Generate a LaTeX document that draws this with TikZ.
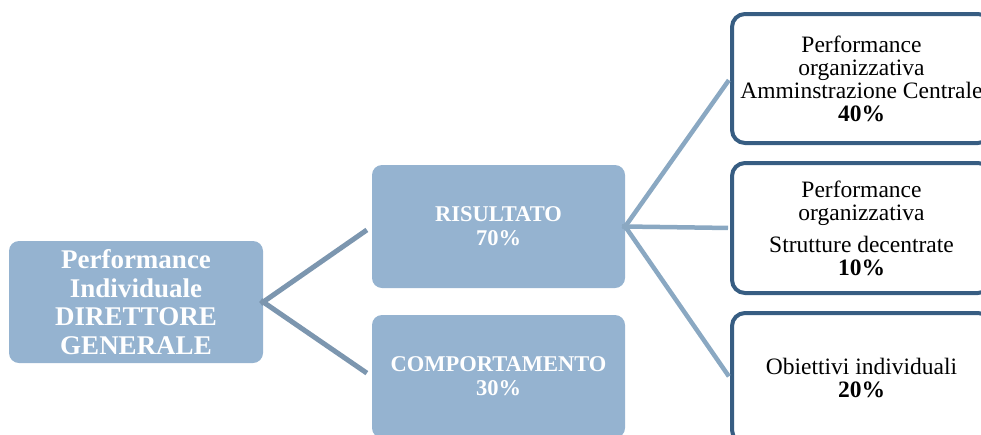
\documentclass[tikz,border=0pt]{standalone}
\usepackage{fontspec}
\setmainfont{Liberation Serif}
\definecolor{boxfill}{RGB}{149,179,208}
\definecolor{lconn}{RGB}{124,150,175}
\definecolor{rconn}{RGB}{138,168,194}
\definecolor{rborder}{RGB}{55,93,130}
\tikzset{
  bluebox/.style={fill=boxfill, draw=none, rounded corners=10pt, align=center, text=white, inner sep=0pt},
  whitebox/.style={fill=white, draw=rborder, line width=4pt, rounded corners=13pt, align=center, text=black, inner sep=0pt, minimum width=259pt},
  leftline/.style={draw=lconn, line width=5pt},
  rightline/.style={draw=rconn, line width=4.5pt},
}
\begin{document}
\begin{tikzpicture}[x=1pt,y=-1pt]
\useasboundingbox (0,0) rectangle (981,434);
\clip (0,0) rectangle (981,434);
\node[bluebox, minimum width=254pt, minimum height=122pt,
  font=\fontsize{27}{28.7}\selectfont\bfseries] (L) at (136,302)
  {Performance\\Individuale\\DIRETTORE\\GENERALE};
\node[bluebox, minimum width=253pt, minimum height=123pt,
  font=\fontsize{22.5}{24}\selectfont\bfseries] (M1) at (498.5,226.5)
  {RISULTATO\\70\%};
\node[bluebox, minimum width=253pt, minimum height=123pt,
  font=\fontsize{22.5}{24}\selectfont\bfseries] (M2) at (498.5,376.5)
  {COMPORTAMENTO\\30\%};
\node[whitebox, minimum height=129pt, font=\fontsize{23.5}{23}\selectfont] (R1) at (861.5,78.5)
  {Performance\\organizzativa\\Amminstrazione Centrale\\\textbf{40\%}};
\node[whitebox, minimum height=130pt, font=\fontsize{23.5}{23}\selectfont] (R2) at (861.5,228)
  {Performance\\organizzativa\\[9pt]Strutture decentrate\\\textbf{10\%}};
\node[whitebox, minimum height=130pt, font=\fontsize{23.5}{23}\selectfont] (R3) at (861.5,378)
  {Obiettivi individuali\\\textbf{20\%}};
\draw[leftline, shorten <=-3pt, shorten >=6pt] (L.east) -- (M1.west);
\draw[leftline, shorten <=-3pt, shorten >=6pt] (L.east) -- (M2.west);
\draw[rightline, shorten <=-3pt, shorten >=2pt] (M1.east) -- (R1.west);
\draw[rightline, shorten <=-3pt, shorten >=2pt] (M1.east) -- (R2.west);
\draw[rightline, shorten <=-3pt, shorten >=2pt] (M1.east) -- (R3.west);
\end{tikzpicture}
\end{document}
